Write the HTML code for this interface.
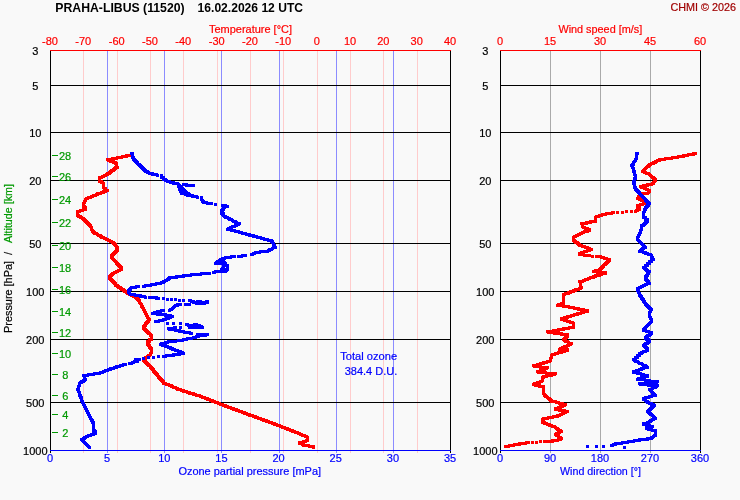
<!DOCTYPE html><html><head><meta charset="utf-8"><style>
html,body{margin:0;padding:0;background:#f9f9f9;}svg{display:block;will-change:transform}text{font-family:"Liberation Sans",sans-serif;font-size:11px;stroke-width:0.2px;paint-order:stroke}
</style></head><body>
<svg width="740" height="500" viewBox="0 0 740 500">
<rect width="740" height="500" fill="#f9f9f9"/>
<g shape-rendering="crispEdges">
<line x1="52" y1="155.5" x2="58" y2="155.5" stroke="#009900"/>
<line x1="52" y1="176.5" x2="58" y2="176.5" stroke="#009900"/>
<line x1="52" y1="199.5" x2="58" y2="199.5" stroke="#009900"/>
<line x1="52" y1="222.5" x2="58" y2="222.5" stroke="#009900"/>
<line x1="52" y1="245.5" x2="58" y2="245.5" stroke="#009900"/>
<line x1="52" y1="267.5" x2="58" y2="267.5" stroke="#009900"/>
<line x1="52" y1="289.5" x2="58" y2="289.5" stroke="#009900"/>
<line x1="52" y1="311.5" x2="58" y2="311.5" stroke="#009900"/>
<line x1="52" y1="332.5" x2="58" y2="332.5" stroke="#009900"/>
<line x1="52" y1="353.5" x2="58" y2="353.5" stroke="#009900"/>
<line x1="52" y1="374.5" x2="58" y2="374.5" stroke="#009900"/>
<line x1="52" y1="395.5" x2="58" y2="395.5" stroke="#009900"/>
<line x1="52" y1="414.5" x2="58" y2="414.5" stroke="#009900"/>
<line x1="52" y1="432.5" x2="58" y2="432.5" stroke="#009900"/>
</g>
<g shape-rendering="crispEdges">
<line x1="83.5" y1="51" x2="83.5" y2="453" stroke="#ffcccc"/>
<line x1="117.5" y1="51" x2="117.5" y2="453" stroke="#ffcccc"/>
<line x1="150.5" y1="51" x2="150.5" y2="453" stroke="#ffcccc"/>
<line x1="183.5" y1="51" x2="183.5" y2="453" stroke="#ffcccc"/>
<line x1="217.5" y1="51" x2="217.5" y2="453" stroke="#ffcccc"/>
<line x1="250.5" y1="51" x2="250.5" y2="453" stroke="#ffcccc"/>
<line x1="283.5" y1="51" x2="283.5" y2="453" stroke="#ffcccc"/>
<line x1="317.5" y1="51" x2="317.5" y2="453" stroke="#ffcccc"/>
<line x1="350.5" y1="51" x2="350.5" y2="453" stroke="#ffcccc"/>
<line x1="383.5" y1="51" x2="383.5" y2="453" stroke="#ffcccc"/>
<line x1="417.5" y1="51" x2="417.5" y2="453" stroke="#ffcccc"/>
<line x1="107.5" y1="51" x2="107.5" y2="453" stroke="#8c8cff"/>
<line x1="164.5" y1="51" x2="164.5" y2="453" stroke="#8c8cff"/>
<line x1="221.5" y1="51" x2="221.5" y2="453" stroke="#8c8cff"/>
<line x1="279.5" y1="51" x2="279.5" y2="453" stroke="#8c8cff"/>
<line x1="336.5" y1="51" x2="336.5" y2="453" stroke="#8c8cff"/>
<line x1="393.5" y1="51" x2="393.5" y2="453" stroke="#8c8cff"/>
<line x1="550.5" y1="51" x2="550.5" y2="453" stroke="#aaaaaa"/>
<line x1="600.5" y1="51" x2="600.5" y2="453" stroke="#aaaaaa"/>
<line x1="650.5" y1="51" x2="650.5" y2="453" stroke="#aaaaaa"/>
<line x1="50" y1="85.5" x2="451" y2="85.5" stroke="#000"/>
<line x1="500" y1="85.5" x2="701" y2="85.5" stroke="#000"/>
<line x1="50" y1="132.5" x2="451" y2="132.5" stroke="#000"/>
<line x1="500" y1="132.5" x2="701" y2="132.5" stroke="#000"/>
<line x1="50" y1="180.5" x2="451" y2="180.5" stroke="#000"/>
<line x1="500" y1="180.5" x2="701" y2="180.5" stroke="#000"/>
<line x1="50" y1="243.5" x2="451" y2="243.5" stroke="#000"/>
<line x1="500" y1="243.5" x2="701" y2="243.5" stroke="#000"/>
<line x1="50" y1="291.5" x2="451" y2="291.5" stroke="#000"/>
<line x1="500" y1="291.5" x2="701" y2="291.5" stroke="#000"/>
<line x1="50" y1="339.5" x2="451" y2="339.5" stroke="#000"/>
<line x1="500" y1="339.5" x2="701" y2="339.5" stroke="#000"/>
<line x1="50" y1="402.5" x2="451" y2="402.5" stroke="#000"/>
<line x1="500" y1="402.5" x2="701" y2="402.5" stroke="#000"/>
<line x1="50.5" y1="50" x2="50.5" y2="453" stroke="#000"/>
<line x1="450.5" y1="50" x2="450.5" y2="453" stroke="#000"/>
<line x1="50" y1="50.5" x2="451" y2="50.5" stroke="#f00"/>
<line x1="50" y1="450.5" x2="451" y2="450.5" stroke="#00f"/>
<line x1="500.5" y1="50" x2="500.5" y2="453" stroke="#000"/>
<line x1="700.5" y1="50" x2="700.5" y2="453" stroke="#000"/>
<line x1="500" y1="50.5" x2="701" y2="50.5" stroke="#f00"/>
<line x1="500" y1="450.5" x2="701" y2="450.5" stroke="#00f"/>
</g>
<text x="59" y="160" fill="#009900" stroke="#009900">28</text>
<text x="59" y="181" fill="#009900" stroke="#009900">26</text>
<text x="59" y="204" fill="#009900" stroke="#009900">24</text>
<text x="59" y="227" fill="#009900" stroke="#009900">22</text>
<text x="59" y="250" fill="#009900" stroke="#009900">20</text>
<text x="59" y="272" fill="#009900" stroke="#009900">18</text>
<text x="59" y="294" fill="#009900" stroke="#009900">16</text>
<text x="59" y="316" fill="#009900" stroke="#009900">14</text>
<text x="59" y="337" fill="#009900" stroke="#009900">12</text>
<text x="59" y="358" fill="#009900" stroke="#009900">10</text>
<text x="62.2" y="379" fill="#009900" stroke="#009900">8</text>
<text x="62.2" y="400" fill="#009900" stroke="#009900">6</text>
<text x="62.2" y="419" fill="#009900" stroke="#009900">4</text>
<text x="62.2" y="437" fill="#009900" stroke="#009900">2</text>
<text x="55.3" y="12" text-anchor="start" fill="#000" stroke="#000" textLength="129.3" lengthAdjust="spacingAndGlyphs" font-weight="bold" style="font-size:12px;stroke-width:0">PRAHA-LIBUS (11520)</text>
<text x="197.6" y="12" text-anchor="start" fill="#000" stroke="#000" textLength="105.4" lengthAdjust="spacingAndGlyphs" font-weight="bold" style="font-size:12px;stroke-width:0">16.02.2026 12 UTC</text>
<text x="670.5" y="11" text-anchor="start" fill="#a00000" stroke="#a00000" textLength="65.5" lengthAdjust="spacingAndGlyphs">CHMI © 2026</text>
<text x="209" y="33" text-anchor="start" fill="#f00" stroke="#f00" textLength="83" lengthAdjust="spacingAndGlyphs">Temperature [°C]</text>
<text x="558.4" y="33" text-anchor="start" fill="#f00" stroke="#f00" textLength="83.8" lengthAdjust="spacingAndGlyphs">Wind speed [m/s]</text>
<text x="50.0" y="45" text-anchor="middle" fill="#f00" stroke="#f00">-80</text>
<text x="83.3" y="45" text-anchor="middle" fill="#f00" stroke="#f00">-70</text>
<text x="116.7" y="45" text-anchor="middle" fill="#f00" stroke="#f00">-60</text>
<text x="150.0" y="45" text-anchor="middle" fill="#f00" stroke="#f00">-50</text>
<text x="183.3" y="45" text-anchor="middle" fill="#f00" stroke="#f00">-40</text>
<text x="216.7" y="45" text-anchor="middle" fill="#f00" stroke="#f00">-30</text>
<text x="250.0" y="45" text-anchor="middle" fill="#f00" stroke="#f00">-20</text>
<text x="283.3" y="45" text-anchor="middle" fill="#f00" stroke="#f00">-10</text>
<text x="316.7" y="45" text-anchor="middle" fill="#f00" stroke="#f00">0</text>
<text x="350.0" y="45" text-anchor="middle" fill="#f00" stroke="#f00">10</text>
<text x="383.3" y="45" text-anchor="middle" fill="#f00" stroke="#f00">20</text>
<text x="416.7" y="45" text-anchor="middle" fill="#f00" stroke="#f00">30</text>
<text x="450.0" y="45" text-anchor="middle" fill="#f00" stroke="#f00">40</text>
<text x="500" y="45" text-anchor="middle" fill="#f00" stroke="#f00">0</text>
<text x="550" y="45" text-anchor="middle" fill="#f00" stroke="#f00">15</text>
<text x="600" y="45" text-anchor="middle" fill="#f00" stroke="#f00">30</text>
<text x="650" y="45" text-anchor="middle" fill="#f00" stroke="#f00">45</text>
<text x="700" y="45" text-anchor="middle" fill="#f00" stroke="#f00">60</text>
<text x="50.0" y="462" text-anchor="middle" fill="#00f" stroke="#00f">0</text>
<text x="107.1" y="462" text-anchor="middle" fill="#00f" stroke="#00f">5</text>
<text x="164.3" y="462" text-anchor="middle" fill="#00f" stroke="#00f">10</text>
<text x="221.4" y="462" text-anchor="middle" fill="#00f" stroke="#00f">15</text>
<text x="278.6" y="462" text-anchor="middle" fill="#00f" stroke="#00f">20</text>
<text x="335.7" y="462" text-anchor="middle" fill="#00f" stroke="#00f">25</text>
<text x="392.9" y="462" text-anchor="middle" fill="#00f" stroke="#00f">30</text>
<text x="450.0" y="462" text-anchor="middle" fill="#00f" stroke="#00f">35</text>
<text x="500" y="462" text-anchor="middle" fill="#00f" stroke="#00f">0</text>
<text x="550" y="462" text-anchor="middle" fill="#00f" stroke="#00f">90</text>
<text x="600" y="462" text-anchor="middle" fill="#00f" stroke="#00f">180</text>
<text x="650" y="462" text-anchor="middle" fill="#00f" stroke="#00f">270</text>
<text x="700" y="462" text-anchor="middle" fill="#00f" stroke="#00f">360</text>
<text x="178.4" y="475" text-anchor="start" fill="#00f" stroke="#00f" textLength="142.7" lengthAdjust="spacingAndGlyphs">Ozone partial pressure [mPa]</text>
<text x="560" y="475" text-anchor="start" fill="#00f" stroke="#00f" textLength="81" lengthAdjust="spacingAndGlyphs">Wind direction [°]</text>
<text x="35.3" y="54.7" text-anchor="middle" fill="#000" stroke="#000">3</text>
<text x="485.3" y="54.7" text-anchor="middle" fill="#000" stroke="#000">3</text>
<text x="35.3" y="89.7" text-anchor="middle" fill="#000" stroke="#000">5</text>
<text x="485.3" y="89.7" text-anchor="middle" fill="#000" stroke="#000">5</text>
<text x="35.3" y="136.7" text-anchor="middle" fill="#000" stroke="#000">10</text>
<text x="485.3" y="136.7" text-anchor="middle" fill="#000" stroke="#000">10</text>
<text x="35.3" y="184.7" text-anchor="middle" fill="#000" stroke="#000">20</text>
<text x="485.3" y="184.7" text-anchor="middle" fill="#000" stroke="#000">20</text>
<text x="35.3" y="247.7" text-anchor="middle" fill="#000" stroke="#000">50</text>
<text x="485.3" y="247.7" text-anchor="middle" fill="#000" stroke="#000">50</text>
<text x="35.3" y="295.7" text-anchor="middle" fill="#000" stroke="#000">100</text>
<text x="485.3" y="295.7" text-anchor="middle" fill="#000" stroke="#000">100</text>
<text x="35.3" y="343.7" text-anchor="middle" fill="#000" stroke="#000">200</text>
<text x="485.3" y="343.7" text-anchor="middle" fill="#000" stroke="#000">200</text>
<text x="35.3" y="406.7" text-anchor="middle" fill="#000" stroke="#000">500</text>
<text x="485.3" y="406.7" text-anchor="middle" fill="#000" stroke="#000">500</text>
<text x="35.3" y="454.7" text-anchor="middle" fill="#000" stroke="#000">1000</text>
<text x="485.3" y="454.7" text-anchor="middle" fill="#000" stroke="#000">1000</text>
<text transform="translate(12,333) rotate(-90)" fill="#000" stroke="#000" textLength="72" lengthAdjust="spacingAndGlyphs">Pressure [hPa]</text>
<text transform="translate(12,255) rotate(-90)" fill="#000" stroke="#000">/</text>
<text transform="translate(12,243) rotate(-90)" fill="#009900" stroke="#009900" textLength="59" lengthAdjust="spacingAndGlyphs">Altitude [km]</text>
<text x="340.3" y="360" text-anchor="start" fill="#00f" stroke="#00f" textLength="56.8" lengthAdjust="spacingAndGlyphs">Total ozone</text>
<text x="371" y="375" text-anchor="middle" fill="#00f" stroke="#00f">384.4 D.U.</text>
<path d="M130 154h3v3h-3zM129 154h3v3h-3zM128 154h3v3h-3zM127 154h3v3h-3zM126 154h3v3h-3zM125 154h3v3h-3zM125 155h3v3h-3zM124 155h3v3h-3zM123 155h3v3h-3zM122 155h3v3h-3zM121 155h3v3h-3zM120 156h3v3h-3zM119 156h3v3h-3zM118 156h3v3h-3zM117 156h3v3h-3zM116 156h3v3h-3zM115 157h3v3h-3zM114 157h3v3h-3zM113 157h3v3h-3zM112 157h3v3h-3zM111 157h3v3h-3zM111 158h3v3h-3zM110 158h3v3h-3zM109 158h3v3h-3zM108 158h3v3h-3zM107 158h3v3h-3zM106 158h3v3h-3zM107 159h3v3h-3zM108 159h3v3h-3zM109 160h3v3h-3zM110 160h3v3h-3zM111 160h3v3h-3zM112 160h3v3h-3zM112 161h3v3h-3zM113 161h3v3h-3zM114 161h3v3h-3zM114 162h3v3h-3zM115 162h3v3h-3zM115 163h3v3h-3zM115 164h3v3h-3zM115 165h3v3h-3zM116 166h3v3h-3zM115 166h3v3h-3zM114 166h3v3h-3zM114 167h3v3h-3zM113 167h3v3h-3zM113 168h3v3h-3zM112 168h3v3h-3zM112 169h3v3h-3zM111 169h3v3h-3zM110 169h3v3h-3zM110 170h3v3h-3zM109 170h3v3h-3zM109 171h3v3h-3zM108 171h3v3h-3zM108 172h3v3h-3zM107 172h3v3h-3zM106 172h3v3h-3zM106 173h3v3h-3zM105 173h3v3h-3zM104 174h3v3h-3zM103 174h3v3h-3zM102 175h3v3h-3zM101 175h3v3h-3zM100 176h3v3h-3zM99 176h3v3h-3zM98 176h3v3h-3zM98 177h3v3h-3zM98 178h3v3h-3zM98 179h3v3h-3zM98 180h3v3h-3zM99 180h3v3h-3zM100 180h3v3h-3zM100 181h3v3h-3zM101 181h3v3h-3zM102 182h3v3h-3zM102 183h3v3h-3zM102 184h3v3h-3zM102 185h3v3h-3zM102 186h3v3h-3zM103 187h3v3h-3zM104 187h3v3h-3zM104 188h3v3h-3zM105 189h3v3h-3zM106 189h3v3h-3zM104 190h3v3h-3zM103 190h3v3h-3zM102 190h3v3h-3zM102 191h3v3h-3zM101 191h3v3h-3zM100 191h3v3h-3zM99 192h3v3h-3zM98 192h3v3h-3zM97 192h3v3h-3zM96 192h3v3h-3zM96 193h3v3h-3zM95 193h3v3h-3zM94 194h3v3h-3zM93 194h3v3h-3zM92 194h3v3h-3zM91 195h3v3h-3zM90 195h3v3h-3zM89 196h3v3h-3zM88 196h3v3h-3zM87 196h3v3h-3zM86 197h3v3h-3zM85 197h3v3h-3zM84 198h3v3h-3zM84 199h3v3h-3zM83 200h3v3h-3zM83 201h3v3h-3zM82 202h3v3h-3zM82 203h3v3h-3zM82 204h3v3h-3zM82 205h3v3h-3zM83 205h3v3h-3zM83 206h3v3h-3zM84 206h3v3h-3zM84 207h3v3h-3zM84 208h3v3h-3zM83 208h3v3h-3zM82 208h3v3h-3zM81 209h3v3h-3zM80 209h3v3h-3zM79 209h3v3h-3zM78 210h3v3h-3zM77 210h3v3h-3zM76 210h3v3h-3zM76 211h3v3h-3zM76 212h3v3h-3zM76 213h3v3h-3zM76 214h3v3h-3zM77 214h3v3h-3zM77 215h3v3h-3zM78 215h3v3h-3zM79 215h3v3h-3zM79 216h3v3h-3zM80 216h3v3h-3zM81 217h3v3h-3zM82 217h3v3h-3zM82 218h3v3h-3zM83 218h3v3h-3zM83 219h3v3h-3zM84 219h3v3h-3zM84 220h3v3h-3zM85 220h3v3h-3zM85 221h3v3h-3zM86 221h3v3h-3zM86 222h3v3h-3zM87 222h3v3h-3zM87 223h3v3h-3zM88 223h3v3h-3zM88 224h3v3h-3zM89 224h3v3h-3zM89 225h3v3h-3zM90 226h3v3h-3zM90 227h3v3h-3zM90 228h3v3h-3zM91 229h3v3h-3zM91 230h3v3h-3zM92 230h3v3h-3zM92 231h3v3h-3zM93 231h3v3h-3zM93 232h3v3h-3zM94 232h3v3h-3zM95 232h3v3h-3zM96 233h3v3h-3zM97 234h3v3h-3zM98 234h3v3h-3zM99 234h3v3h-3zM99 235h3v3h-3zM100 235h3v3h-3zM100 236h3v3h-3zM101 236h3v3h-3zM102 236h3v3h-3zM103 237h3v3h-3zM104 237h3v3h-3zM105 238h3v3h-3zM106 238h3v3h-3zM107 239h3v3h-3zM108 239h3v3h-3zM109 240h3v3h-3zM110 240h3v3h-3zM111 241h3v3h-3zM112 241h3v3h-3zM112 242h3v3h-3zM113 242h3v3h-3zM113 243h3v3h-3zM114 243h3v3h-3zM114 244h3v3h-3zM115 245h3v3h-3zM115 246h3v3h-3zM116 246h3v3h-3zM116 247h3v3h-3zM116 248h3v3h-3zM116 249h3v3h-3zM115 249h3v3h-3zM115 250h3v3h-3zM114 250h3v3h-3zM114 251h3v3h-3zM113 251h3v3h-3zM113 252h3v3h-3zM112 252h3v3h-3zM112 253h3v3h-3zM111 253h3v3h-3zM111 254h3v3h-3zM110 254h3v3h-3zM110 255h3v3h-3zM110 256h3v3h-3zM111 257h3v3h-3zM112 258h3v3h-3zM113 259h3v3h-3zM114 260h3v3h-3zM115 261h3v3h-3zM115 262h3v3h-3zM116 262h3v3h-3zM116 263h3v3h-3zM117 263h3v3h-3zM117 264h3v3h-3zM118 264h3v3h-3zM118 265h3v3h-3zM119 265h3v3h-3zM119 266h3v3h-3zM120 266h3v3h-3zM120 267h3v3h-3zM120 268h3v3h-3zM119 268h3v3h-3zM118 269h3v3h-3zM117 269h3v3h-3zM116 270h3v3h-3zM115 270h3v3h-3zM114 271h3v3h-3zM113 271h3v3h-3zM112 272h3v3h-3zM111 272h3v3h-3zM111 273h3v3h-3zM110 273h3v3h-3zM110 274h3v3h-3zM109 274h3v3h-3zM109 275h3v3h-3zM108 275h3v3h-3zM108 276h3v3h-3zM108 277h3v3h-3zM109 277h3v3h-3zM109 278h3v3h-3zM110 278h3v3h-3zM110 279h3v3h-3zM111 279h3v3h-3zM111 280h3v3h-3zM112 280h3v3h-3zM112 281h3v3h-3zM113 281h3v3h-3zM113 282h3v3h-3zM114 282h3v3h-3zM114 283h3v3h-3zM114 284h3v3h-3zM115 284h3v3h-3zM116 284h3v3h-3zM116 285h3v3h-3zM117 285h3v3h-3zM117 286h3v3h-3zM118 286h3v3h-3zM119 286h3v3h-3zM119 287h3v3h-3zM120 287h3v3h-3zM120 288h3v3h-3zM121 288h3v3h-3zM122 288h3v3h-3zM122 289h3v3h-3zM123 289h3v3h-3zM123 290h3v3h-3zM124 290h3v3h-3zM125 291h3v3h-3zM126 291h3v3h-3zM126 292h3v3h-3zM127 292h3v3h-3zM128 292h3v3h-3zM128 293h3v3h-3zM129 293h3v3h-3zM130 294h3v3h-3zM131 294h3v3h-3zM132 295h3v3h-3zM133 295h3v3h-3zM134 296h3v3h-3zM135 296h3v3h-3zM135 297h3v3h-3zM136 297h3v3h-3zM136 298h3v3h-3zM137 298h3v3h-3zM137 299h3v3h-3zM138 299h3v3h-3zM138 300h3v3h-3zM138 301h3v3h-3zM139 302h3v3h-3zM140 303h3v3h-3zM140 304h3v3h-3zM140 305h3v3h-3zM141 305h3v3h-3zM141 306h3v3h-3zM142 307h3v3h-3zM142 308h3v3h-3zM143 309h3v3h-3zM143 310h3v3h-3zM144 311h3v3h-3zM144 312h3v3h-3zM145 313h3v3h-3zM145 314h3v3h-3zM146 315h3v3h-3zM146 316h3v3h-3zM147 317h3v3h-3zM147 318h3v3h-3zM148 318h3v3h-3zM147 319h3v3h-3zM147 320h3v3h-3zM146 320h3v3h-3zM146 321h3v3h-3zM145 321h3v3h-3zM145 322h3v3h-3zM144 322h3v3h-3zM144 323h3v3h-3zM144 324h3v3h-3zM143 324h3v3h-3zM143 325h3v3h-3zM142 325h3v3h-3zM142 326h3v3h-3zM142 327h3v3h-3zM143 327h3v3h-3zM143 328h3v3h-3zM144 328h3v3h-3zM144 329h3v3h-3zM145 329h3v3h-3zM145 330h3v3h-3zM146 330h3v3h-3zM146 331h3v3h-3zM147 331h3v3h-3zM147 332h3v3h-3zM148 332h3v3h-3zM149 333h3v3h-3zM149 334h3v3h-3zM150 334h3v3h-3zM150 335h3v3h-3zM150 336h3v3h-3zM150 337h3v3h-3zM150 338h3v3h-3zM149 338h3v3h-3zM148 338h3v3h-3zM148 339h3v3h-3zM148 340h3v3h-3zM147 340h3v3h-3zM146 340h3v3h-3zM146 341h3v3h-3zM146 342h3v3h-3zM146 343h3v3h-3zM147 343h3v3h-3zM147 344h3v3h-3zM148 344h3v3h-3zM148 345h3v3h-3zM148 346h3v3h-3zM149 346h3v3h-3zM149 347h3v3h-3zM150 347h3v3h-3zM150 348h3v3h-3zM150 349h3v3h-3zM150 350h3v3h-3zM150 351h3v3h-3zM149 352h3v3h-3zM149 353h3v3h-3zM148 354h3v3h-3zM147 354h3v3h-3zM147 355h3v3h-3zM146 355h3v3h-3zM146 356h3v3h-3zM145 356h3v3h-3zM144 356h3v3h-3zM144 357h3v3h-3zM143 357h3v3h-3zM143 358h3v3h-3zM142 358h3v3h-3zM142 359h3v3h-3zM143 359h3v3h-3zM143 360h3v3h-3zM144 360h3v3h-3zM144 361h3v3h-3zM145 361h3v3h-3zM145 362h3v3h-3zM146 362h3v3h-3zM146 363h3v3h-3zM147 363h3v3h-3zM147 364h3v3h-3zM148 364h3v3h-3zM149 365h3v3h-3zM149 366h3v3h-3zM150 366h3v3h-3zM150 367h3v3h-3zM151 367h3v3h-3zM151 368h3v3h-3zM152 368h3v3h-3zM152 369h3v3h-3zM152 370h3v3h-3zM153 370h3v3h-3zM153 371h3v3h-3zM154 371h3v3h-3zM154 372h3v3h-3zM155 372h3v3h-3zM155 373h3v3h-3zM156 373h3v3h-3zM156 374h3v3h-3zM157 375h3v3h-3zM157 376h3v3h-3zM158 376h3v3h-3zM158 377h3v3h-3zM159 377h3v3h-3zM159 378h3v3h-3zM160 378h3v3h-3zM160 379h3v3h-3zM161 379h3v3h-3zM161 380h3v3h-3zM162 380h3v3h-3zM162 381h3v3h-3zM162 382h3v3h-3zM163 382h3v3h-3zM164 382h3v3h-3zM165 383h3v3h-3zM166 383h3v3h-3zM167 383h3v3h-3zM168 384h3v3h-3zM169 384h3v3h-3zM170 384h3v3h-3zM170 385h3v3h-3zM171 385h3v3h-3zM172 386h3v3h-3zM173 386h3v3h-3zM174 386h3v3h-3zM175 387h3v3h-3zM176 387h3v3h-3zM176 388h3v3h-3zM177 388h3v3h-3zM178 388h3v3h-3zM179 388h3v3h-3zM180 389h3v3h-3zM181 389h3v3h-3zM182 389h3v3h-3zM182 390h3v3h-3zM183 390h3v3h-3zM184 390h3v3h-3zM185 390h3v3h-3zM186 391h3v3h-3zM187 391h3v3h-3zM188 391h3v3h-3zM188 392h3v3h-3zM189 392h3v3h-3zM190 392h3v3h-3zM191 392h3v3h-3zM192 392h3v3h-3zM192 393h3v3h-3zM193 393h3v3h-3zM194 393h3v3h-3zM195 394h3v3h-3zM196 394h3v3h-3zM197 394h3v3h-3zM198 394h3v3h-3zM199 395h3v3h-3zM200 395h3v3h-3zM201 396h3v3h-3zM202 396h3v3h-3zM203 396h3v3h-3zM204 397h3v3h-3zM205 397h3v3h-3zM206 397h3v3h-3zM206 398h3v3h-3zM207 398h3v3h-3zM208 398h3v3h-3zM209 399h3v3h-3zM210 399h3v3h-3zM211 399h3v3h-3zM211 400h3v3h-3zM212 400h3v3h-3zM213 400h3v3h-3zM214 401h3v3h-3zM215 401h3v3h-3zM216 401h3v3h-3zM217 402h3v3h-3zM218 402h3v3h-3zM219 403h3v3h-3zM220 403h3v3h-3zM221 403h3v3h-3zM222 404h3v3h-3zM223 404h3v3h-3zM224 404h3v3h-3zM224 405h3v3h-3zM225 405h3v3h-3zM226 405h3v3h-3zM227 406h3v3h-3zM228 406h3v3h-3zM229 406h3v3h-3zM230 407h3v3h-3zM231 407h3v3h-3zM232 407h3v3h-3zM232 408h3v3h-3zM233 408h3v3h-3zM234 408h3v3h-3zM235 408h3v3h-3zM235 409h3v3h-3zM236 409h3v3h-3zM237 409h3v3h-3zM238 410h3v3h-3zM239 410h3v3h-3zM240 410h3v3h-3zM241 411h3v3h-3zM242 411h3v3h-3zM243 411h3v3h-3zM243 412h3v3h-3zM244 412h3v3h-3zM245 412h3v3h-3zM246 413h3v3h-3zM247 413h3v3h-3zM248 413h3v3h-3zM248 414h3v3h-3zM249 414h3v3h-3zM250 414h3v3h-3zM251 414h3v3h-3zM252 415h3v3h-3zM253 415h3v3h-3zM254 415h3v3h-3zM254 416h3v3h-3zM255 416h3v3h-3zM256 416h3v3h-3zM257 417h3v3h-3zM258 417h3v3h-3zM259 417h3v3h-3zM260 418h3v3h-3zM261 418h3v3h-3zM262 418h3v3h-3zM262 419h3v3h-3zM263 419h3v3h-3zM264 419h3v3h-3zM265 419h3v3h-3zM265 420h3v3h-3zM266 420h3v3h-3zM267 420h3v3h-3zM268 421h3v3h-3zM269 421h3v3h-3zM270 421h3v3h-3zM271 422h3v3h-3zM272 422h3v3h-3zM273 422h3v3h-3zM273 423h3v3h-3zM274 423h3v3h-3zM275 423h3v3h-3zM276 424h3v3h-3zM277 424h3v3h-3zM278 424h3v3h-3zM279 425h3v3h-3zM280 425h3v3h-3zM281 426h3v3h-3zM282 426h3v3h-3zM283 426h3v3h-3zM284 427h3v3h-3zM285 427h3v3h-3zM286 427h3v3h-3zM286 428h3v3h-3zM287 428h3v3h-3zM288 428h3v3h-3zM289 429h3v3h-3zM290 429h3v3h-3zM291 429h3v3h-3zM291 430h3v3h-3zM292 430h3v3h-3zM293 430h3v3h-3zM294 431h3v3h-3zM295 431h3v3h-3zM296 431h3v3h-3zM297 432h3v3h-3zM298 432h3v3h-3zM299 433h3v3h-3zM300 433h3v3h-3zM301 434h3v3h-3zM302 434h3v3h-3zM303 434h3v3h-3zM304 435h3v3h-3zM305 435h3v3h-3zM306 436h3v3h-3zM306 437h3v3h-3zM306 438h3v3h-3zM306 439h3v3h-3zM305 439h3v3h-3zM304 440h3v3h-3zM303 440h3v3h-3zM302 440h3v3h-3zM302 441h3v3h-3zM301 441h3v3h-3zM300 441h3v3h-3zM299 441h3v3h-3zM298 441h3v3h-3zM298 442h3v3h-3zM299 442h3v3h-3zM300 442h3v3h-3zM301 443h3v3h-3zM302 443h3v3h-3zM302 444h3v3h-3zM303 444h3v3h-3zM304 444h3v3h-3zM305 444h3v3h-3zM306 444h3v3h-3zM307 444h3v3h-3zM308 445h3v3h-3zM309 445h3v3h-3zM310 445h3v3h-3zM311 445h3v3h-3zM312 445h3v3h-3zM312 446h3v3h-3z" fill="#f00" shape-rendering="crispEdges"/>
<path d="M130 152h3v3h-3zM131 152h3v3h-3zM131 153h3v3h-3zM131 154h3v3h-3zM131 155h3v3h-3zM131 156h3v3h-3zM132 156h3v3h-3zM132 157h3v3h-3zM132 158h3v3h-3zM133 158h3v3h-3zM133 159h3v3h-3zM134 159h3v3h-3zM134 160h3v3h-3zM135 160h3v3h-3zM135 161h3v3h-3zM136 161h3v3h-3zM136 162h3v3h-3zM137 163h3v3h-3zM138 163h3v3h-3zM138 164h3v3h-3zM139 164h3v3h-3zM139 165h3v3h-3zM140 165h3v3h-3zM140 166h3v3h-3zM141 166h3v3h-3zM141 167h3v3h-3zM142 167h3v3h-3zM142 168h3v3h-3zM143 168h3v3h-3zM143 169h3v3h-3zM144 169h3v3h-3zM144 170h3v3h-3zM145 170h3v3h-3zM146 170h3v3h-3zM146 171h3v3h-3zM147 171h3v3h-3zM148 172h3v3h-3zM149 172h3v3h-3zM150 172h3v3h-3zM151 172h3v3h-3zM151 173h3v3h-3zM152 173h3v3h-3zM153 173h3v3h-3zM154 173h3v3h-3zM155 173h3v3h-3zM156 174h3v3h-3zM160 174h3v3h-3zM160 175h3v3h-3zM160 176h3v3h-3zM161 176h3v3h-3zM162 176h3v3h-3zM162 177h3v3h-3zM162 178h3v3h-3zM163 178h3v3h-3zM164 178h3v3h-3zM164 179h3v3h-3zM165 179h3v3h-3zM166 180h3v3h-3zM167 180h3v3h-3zM168 180h3v3h-3zM169 181h3v3h-3zM170 181h3v3h-3zM171 181h3v3h-3zM172 181h3v3h-3zM172 182h3v3h-3zM173 182h3v3h-3zM174 182h3v3h-3zM175 182h3v3h-3zM176 182h3v3h-3zM177 183h3v3h-3zM177 184h3v3h-3zM177 185h3v3h-3zM178 186h3v3h-3zM178 187h3v3h-3zM178 188h3v3h-3zM179 189h3v3h-3zM179 190h3v3h-3zM180 190h3v3h-3zM180 191h3v3h-3zM180 192h3v3h-3zM181 192h3v3h-3zM182 192h3v3h-3zM183 192h3v3h-3zM184 193h3v3h-3zM185 193h3v3h-3zM186 193h3v3h-3zM186 194h3v3h-3zM187 194h3v3h-3zM188 194h3v3h-3zM189 194h3v3h-3zM190 194h3v3h-3zM191 194h3v3h-3zM191 195h3v3h-3zM192 195h3v3h-3zM193 195h3v3h-3zM194 195h3v3h-3zM195 195h3v3h-3zM196 196h3v3h-3zM200 196h3v3h-3zM200 197h3v3h-3zM200 198h3v3h-3zM201 199h3v3h-3zM201 200h3v3h-3zM202 200h3v3h-3zM202 201h3v3h-3zM203 201h3v3h-3zM204 201h3v3h-3zM205 201h3v3h-3zM206 202h3v3h-3zM207 202h3v3h-3zM208 202h3v3h-3zM209 202h3v3h-3zM210 202h3v3h-3zM214 203h3v3h-3zM224 204h3v3h-3zM223 205h3v3h-3zM223 206h3v3h-3zM222 206h3v3h-3zM222 207h3v3h-3zM222 208h3v3h-3zM221 208h3v3h-3zM221 209h3v3h-3zM220 209h3v3h-3zM220 210h3v3h-3zM220 211h3v3h-3zM220 212h3v3h-3zM221 212h3v3h-3zM221 213h3v3h-3zM222 213h3v3h-3zM222 214h3v3h-3zM223 215h3v3h-3zM224 215h3v3h-3zM224 216h3v3h-3zM225 216h3v3h-3zM226 216h3v3h-3zM227 217h3v3h-3zM228 217h3v3h-3zM228 218h3v3h-3zM229 218h3v3h-3zM230 218h3v3h-3zM231 219h3v3h-3zM232 220h3v3h-3zM233 220h3v3h-3zM234 220h3v3h-3zM234 221h3v3h-3zM235 221h3v3h-3zM236 222h3v3h-3zM237 222h3v3h-3zM238 222h3v3h-3zM237 223h3v3h-3zM236 223h3v3h-3zM235 224h3v3h-3zM234 224h3v3h-3zM233 225h3v3h-3zM232 225h3v3h-3zM231 225h3v3h-3zM230 226h3v3h-3zM229 226h3v3h-3zM228 227h3v3h-3zM227 227h3v3h-3zM226 228h3v3h-3zM227 228h3v3h-3zM228 228h3v3h-3zM229 228h3v3h-3zM230 228h3v3h-3zM230 229h3v3h-3zM231 229h3v3h-3zM232 229h3v3h-3zM233 229h3v3h-3zM234 230h3v3h-3zM235 230h3v3h-3zM236 230h3v3h-3zM237 230h3v3h-3zM238 231h3v3h-3zM239 231h3v3h-3zM240 231h3v3h-3zM241 232h3v3h-3zM242 232h3v3h-3zM243 232h3v3h-3zM244 232h3v3h-3zM245 233h3v3h-3zM246 233h3v3h-3zM247 233h3v3h-3zM248 233h3v3h-3zM248 234h3v3h-3zM249 234h3v3h-3zM250 234h3v3h-3zM251 234h3v3h-3zM252 234h3v3h-3zM252 235h3v3h-3zM253 235h3v3h-3zM254 235h3v3h-3zM255 235h3v3h-3zM256 236h3v3h-3zM257 236h3v3h-3zM258 236h3v3h-3zM259 236h3v3h-3zM260 237h3v3h-3zM261 237h3v3h-3zM262 237h3v3h-3zM263 238h3v3h-3zM264 238h3v3h-3zM265 238h3v3h-3zM266 238h3v3h-3zM267 239h3v3h-3zM268 239h3v3h-3zM269 239h3v3h-3zM270 239h3v3h-3zM270 240h3v3h-3zM271 240h3v3h-3zM271 241h3v3h-3zM272 242h3v3h-3zM272 243h3v3h-3zM273 244h3v3h-3zM273 245h3v3h-3zM274 246h3v3h-3zM273 246h3v3h-3zM272 246h3v3h-3zM271 247h3v3h-3zM270 248h3v3h-3zM269 248h3v3h-3zM268 248h3v3h-3zM268 249h3v3h-3zM267 249h3v3h-3zM266 250h3v3h-3zM265 250h3v3h-3zM264 250h3v3h-3zM263 250h3v3h-3zM262 250h3v3h-3zM261 250h3v3h-3zM260 250h3v3h-3zM259 250h3v3h-3zM258 251h3v3h-3zM257 251h3v3h-3zM256 251h3v3h-3zM255 251h3v3h-3zM254 251h3v3h-3zM253 252h3v3h-3zM252 252h3v3h-3zM251 253h3v3h-3zM250 253h3v3h-3zM244 254h3v3h-3zM243 254h3v3h-3zM242 254h3v3h-3zM241 254h3v3h-3zM240 255h3v3h-3zM239 255h3v3h-3zM238 255h3v3h-3zM237 255h3v3h-3zM233 255h3v3h-3zM232 255h3v3h-3zM231 255h3v3h-3zM230 255h3v3h-3zM229 256h3v3h-3zM228 256h3v3h-3zM227 256h3v3h-3zM226 256h3v3h-3zM225 256h3v3h-3zM224 256h3v3h-3zM223 257h3v3h-3zM222 257h3v3h-3zM221 257h3v3h-3zM220 258h3v3h-3zM219 258h3v3h-3zM218 259h3v3h-3zM217 260h3v3h-3zM216 260h3v3h-3zM215 261h3v3h-3zM214 262h3v3h-3zM215 262h3v3h-3zM216 262h3v3h-3zM217 262h3v3h-3zM218 262h3v3h-3zM219 262h3v3h-3zM220 262h3v3h-3zM221 262h3v3h-3zM222 263h3v3h-3zM223 263h3v3h-3zM224 263h3v3h-3zM225 264h3v3h-3zM226 264h3v3h-3zM226 265h3v3h-3zM226 266h3v3h-3zM226 267h3v3h-3zM226 268h3v3h-3zM225 268h3v3h-3zM225 269h3v3h-3zM224 270h3v3h-3zM223 270h3v3h-3zM222 270h3v3h-3zM221 270h3v3h-3zM220 270h3v3h-3zM219 270h3v3h-3zM218 270h3v3h-3zM217 270h3v3h-3zM216 270h3v3h-3zM215 270h3v3h-3zM214 270h3v3h-3zM213 271h3v3h-3zM212 271h3v3h-3zM208 272h3v3h-3zM207 272h3v3h-3zM206 272h3v3h-3zM205 272h3v3h-3zM204 272h3v3h-3zM203 272h3v3h-3zM202 272h3v3h-3zM201 272h3v3h-3zM200 272h3v3h-3zM199 273h3v3h-3zM198 273h3v3h-3zM197 273h3v3h-3zM196 273h3v3h-3zM195 273h3v3h-3zM194 273h3v3h-3zM193 273h3v3h-3zM192 273h3v3h-3zM191 273h3v3h-3zM190 273h3v3h-3zM189 274h3v3h-3zM188 274h3v3h-3zM187 274h3v3h-3zM186 274h3v3h-3zM185 274h3v3h-3zM184 274h3v3h-3zM183 274h3v3h-3zM182 274h3v3h-3zM182 275h3v3h-3zM181 275h3v3h-3zM180 275h3v3h-3zM179 275h3v3h-3zM178 275h3v3h-3zM177 275h3v3h-3zM176 275h3v3h-3zM175 275h3v3h-3zM175 276h3v3h-3zM174 276h3v3h-3zM173 276h3v3h-3zM172 276h3v3h-3zM171 276h3v3h-3zM170 276h3v3h-3zM169 276h3v3h-3zM168 276h3v3h-3zM168 277h3v3h-3zM167 277h3v3h-3zM167 278h3v3h-3zM166 278h3v3h-3zM165 279h3v3h-3zM164 279h3v3h-3zM163 280h3v3h-3zM162 280h3v3h-3zM162 281h3v3h-3zM161 281h3v3h-3zM160 281h3v3h-3zM159 282h3v3h-3zM158 282h3v3h-3zM157 282h3v3h-3zM156 282h3v3h-3zM155 282h3v3h-3zM154 283h3v3h-3zM153 283h3v3h-3zM152 283h3v3h-3zM151 283h3v3h-3zM150 283h3v3h-3zM149 284h3v3h-3zM148 284h3v3h-3zM147 284h3v3h-3zM146 284h3v3h-3zM145 284h3v3h-3zM144 284h3v3h-3zM143 285h3v3h-3zM142 285h3v3h-3zM137 285h3v3h-3zM136 285h3v3h-3zM135 285h3v3h-3zM134 286h3v3h-3zM133 286h3v3h-3zM132 286h3v3h-3zM131 286h3v3h-3zM130 286h3v3h-3zM129 287h3v3h-3zM129 288h3v3h-3zM128 288h3v3h-3zM127 289h3v3h-3zM127 290h3v3h-3zM127 291h3v3h-3zM128 291h3v3h-3zM128 292h3v3h-3zM129 293h3v3h-3zM130 293h3v3h-3zM131 293h3v3h-3zM132 293h3v3h-3zM133 293h3v3h-3zM134 294h3v3h-3zM135 294h3v3h-3zM136 294h3v3h-3zM137 294h3v3h-3zM138 294h3v3h-3zM139 294h3v3h-3zM139 295h3v3h-3zM140 295h3v3h-3zM141 295h3v3h-3zM142 295h3v3h-3zM143 295h3v3h-3zM144 296h3v3h-3zM148 296h3v3h-3zM149 296h3v3h-3zM150 296h3v3h-3zM151 296h3v3h-3zM152 296h3v3h-3zM153 296h3v3h-3zM154 296h3v3h-3zM155 296h3v3h-3zM155 297h3v3h-3zM156 297h3v3h-3zM157 297h3v3h-3zM162 297h3v3h-3zM166 298h3v3h-3zM170 298h3v3h-3zM174 298h3v3h-3zM178 299h3v3h-3zM182 299h3v3h-3zM188 299h3v3h-3zM189 299h3v3h-3zM190 300h3v3h-3zM191 300h3v3h-3zM192 300h3v3h-3zM192 301h3v3h-3zM193 301h3v3h-3zM194 301h3v3h-3zM195 302h3v3h-3zM195 301h3v3h-3zM196 301h3v3h-3zM196 300h3v3h-3zM197 300h3v3h-3zM198 300h3v3h-3zM199 300h3v3h-3zM200 301h3v3h-3zM201 301h3v3h-3zM202 301h3v3h-3zM203 301h3v3h-3zM204 301h3v3h-3zM205 300h3v3h-3zM206 300h3v3h-3zM206 301h3v3h-3zM205 301h3v3h-3zM203 302h3v3h-3zM202 302h3v3h-3zM201 302h3v3h-3zM200 302h3v3h-3zM199 302h3v3h-3zM198 302h3v3h-3zM197 302h3v3h-3zM196 302h3v3h-3zM188 303h3v3h-3zM187 303h3v3h-3zM186 303h3v3h-3zM185 303h3v3h-3zM184 303h3v3h-3zM179 303h3v3h-3zM178 303h3v3h-3zM177 303h3v3h-3zM176 303h3v3h-3zM176 304h3v3h-3zM175 304h3v3h-3zM174 304h3v3h-3zM173 305h3v3h-3zM172 306h3v3h-3zM171 307h3v3h-3zM170 308h3v3h-3zM169 308h3v3h-3zM168 309h3v3h-3zM162 309h3v3h-3zM161 309h3v3h-3zM160 309h3v3h-3zM159 310h3v3h-3zM158 310h3v3h-3zM157 310h3v3h-3zM156 310h3v3h-3zM155 311h3v3h-3zM154 311h3v3h-3zM153 311h3v3h-3zM152 312h3v3h-3zM151 312h3v3h-3zM153 312h3v3h-3zM154 312h3v3h-3zM155 312h3v3h-3zM156 312h3v3h-3zM156 313h3v3h-3zM157 313h3v3h-3zM158 313h3v3h-3zM159 313h3v3h-3zM160 313h3v3h-3zM161 313h3v3h-3zM162 313h3v3h-3zM163 313h3v3h-3zM164 313h3v3h-3zM164 314h3v3h-3zM165 314h3v3h-3zM166 314h3v3h-3zM167 314h3v3h-3zM168 314h3v3h-3zM169 314h3v3h-3zM170 315h3v3h-3zM171 315h3v3h-3zM169 316h3v3h-3zM168 316h3v3h-3zM167 317h3v3h-3zM166 317h3v3h-3zM165 317h3v3h-3zM164 318h3v3h-3zM163 318h3v3h-3zM162 318h3v3h-3zM161 319h3v3h-3zM160 319h3v3h-3zM159 319h3v3h-3zM158 319h3v3h-3zM157 320h3v3h-3zM156 320h3v3h-3zM155 320h3v3h-3zM154 320h3v3h-3zM166 322h3v3h-3zM172 322h3v3h-3zM179 322h3v3h-3zM185 323h3v3h-3zM186 323h3v3h-3zM187 324h3v3h-3zM188 324h3v3h-3zM189 324h3v3h-3zM190 324h3v3h-3zM191 324h3v3h-3zM192 324h3v3h-3zM193 324h3v3h-3zM193 323h3v3h-3zM194 323h3v3h-3zM195 323h3v3h-3zM196 324h3v3h-3zM197 324h3v3h-3zM198 324h3v3h-3zM199 325h3v3h-3zM200 325h3v3h-3zM201 326h3v3h-3zM200 326h3v3h-3zM199 326h3v3h-3zM198 326h3v3h-3zM197 326h3v3h-3zM196 326h3v3h-3zM195 326h3v3h-3zM194 326h3v3h-3zM193 326h3v3h-3zM192 326h3v3h-3zM191 326h3v3h-3zM190 326h3v3h-3zM189 326h3v3h-3zM188 326h3v3h-3zM179 326h3v3h-3zM174 326h3v3h-3zM173 326h3v3h-3zM172 327h3v3h-3zM171 327h3v3h-3zM170 327h3v3h-3zM169 327h3v3h-3zM168 327h3v3h-3zM167 327h3v3h-3zM168 328h3v3h-3zM169 328h3v3h-3zM170 328h3v3h-3zM171 328h3v3h-3zM172 328h3v3h-3zM173 328h3v3h-3zM174 329h3v3h-3zM175 329h3v3h-3zM176 329h3v3h-3zM177 329h3v3h-3zM178 329h3v3h-3zM178 330h3v3h-3zM179 330h3v3h-3zM180 330h3v3h-3zM181 330h3v3h-3zM182 330h3v3h-3zM183 331h3v3h-3zM184 331h3v3h-3zM185 331h3v3h-3zM186 331h3v3h-3zM187 331h3v3h-3zM188 331h3v3h-3zM189 332h3v3h-3zM190 332h3v3h-3zM196 333h3v3h-3zM197 333h3v3h-3zM198 333h3v3h-3zM199 333h3v3h-3zM200 333h3v3h-3zM201 333h3v3h-3zM202 333h3v3h-3zM203 333h3v3h-3zM204 333h3v3h-3zM205 333h3v3h-3zM206 333h3v3h-3zM204 334h3v3h-3zM203 334h3v3h-3zM202 334h3v3h-3zM201 334h3v3h-3zM200 334h3v3h-3zM197 335h3v3h-3zM196 335h3v3h-3zM195 335h3v3h-3zM194 336h3v3h-3zM193 336h3v3h-3zM192 336h3v3h-3zM190 337h3v3h-3zM189 337h3v3h-3zM188 337h3v3h-3zM187 337h3v3h-3zM186 337h3v3h-3zM185 338h3v3h-3zM182 338h3v3h-3zM181 339h3v3h-3zM180 339h3v3h-3zM179 339h3v3h-3zM178 339h3v3h-3zM177 339h3v3h-3zM174 340h3v3h-3zM173 340h3v3h-3zM172 340h3v3h-3zM171 340h3v3h-3zM170 340h3v3h-3zM169 340h3v3h-3zM168 340h3v3h-3zM167 340h3v3h-3zM166 341h3v3h-3zM165 341h3v3h-3zM164 341h3v3h-3zM164 342h3v3h-3zM163 342h3v3h-3zM162 342h3v3h-3zM161 342h3v3h-3zM160 342h3v3h-3zM159 343h3v3h-3zM160 343h3v3h-3zM161 343h3v3h-3zM161 344h3v3h-3zM162 344h3v3h-3zM163 344h3v3h-3zM164 345h3v3h-3zM165 345h3v3h-3zM166 345h3v3h-3zM167 346h3v3h-3zM168 346h3v3h-3zM169 346h3v3h-3zM169 347h3v3h-3zM170 347h3v3h-3zM171 347h3v3h-3zM171 348h3v3h-3zM172 348h3v3h-3zM173 348h3v3h-3zM174 349h3v3h-3zM175 349h3v3h-3zM176 349h3v3h-3zM177 350h3v3h-3zM178 350h3v3h-3zM179 350h3v3h-3zM179 351h3v3h-3zM180 351h3v3h-3zM181 351h3v3h-3zM182 352h3v3h-3zM181 352h3v3h-3zM180 352h3v3h-3zM179 352h3v3h-3zM178 353h3v3h-3zM177 353h3v3h-3zM176 353h3v3h-3zM175 353h3v3h-3zM174 353h3v3h-3zM173 353h3v3h-3zM172 353h3v3h-3zM172 354h3v3h-3zM171 354h3v3h-3zM170 354h3v3h-3zM169 354h3v3h-3zM168 354h3v3h-3zM167 354h3v3h-3zM166 354h3v3h-3zM165 354h3v3h-3zM164 355h3v3h-3zM163 355h3v3h-3zM162 355h3v3h-3zM157 355h3v3h-3zM152 356h3v3h-3zM147 356h3v3h-3zM142 357h3v3h-3zM138 358h3v3h-3zM137 358h3v3h-3zM136 359h3v3h-3zM135 360h3v3h-3zM134 360h3v3h-3zM133 360h3v3h-3zM132 361h3v3h-3zM131 361h3v3h-3zM130 362h3v3h-3zM129 362h3v3h-3zM128 362h3v3h-3zM124 363h3v3h-3zM123 363h3v3h-3zM122 363h3v3h-3zM121 364h3v3h-3zM120 364h3v3h-3zM119 364h3v3h-3zM118 365h3v3h-3zM117 365h3v3h-3zM116 365h3v3h-3zM115 365h3v3h-3zM115 366h3v3h-3zM114 366h3v3h-3zM113 366h3v3h-3zM112 367h3v3h-3zM111 367h3v3h-3zM110 367h3v3h-3zM109 367h3v3h-3zM109 368h3v3h-3zM108 368h3v3h-3zM107 368h3v3h-3zM106 369h3v3h-3zM105 369h3v3h-3zM104 369h3v3h-3zM103 370h3v3h-3zM102 370h3v3h-3zM101 371h3v3h-3zM100 371h3v3h-3zM99 371h3v3h-3zM98 372h3v3h-3zM97 372h3v3h-3zM96 372h3v3h-3zM95 372h3v3h-3zM94 372h3v3h-3zM93 372h3v3h-3zM92 373h3v3h-3zM91 373h3v3h-3zM90 373h3v3h-3zM89 373h3v3h-3zM88 373h3v3h-3zM87 373h3v3h-3zM86 374h3v3h-3zM85 374h3v3h-3zM84 374h3v3h-3zM83 374h3v3h-3zM82 374h3v3h-3zM83 375h3v3h-3zM83 376h3v3h-3zM83 377h3v3h-3zM83 378h3v3h-3zM84 378h3v3h-3zM83 379h3v3h-3zM82 379h3v3h-3zM82 380h3v3h-3zM81 380h3v3h-3zM80 380h3v3h-3zM80 381h3v3h-3zM79 381h3v3h-3zM78 382h3v3h-3zM78 383h3v3h-3zM78 384h3v3h-3zM77 385h3v3h-3zM77 386h3v3h-3zM77 387h3v3h-3zM76 388h3v3h-3zM77 388h3v3h-3zM77 389h3v3h-3zM77 390h3v3h-3zM78 391h3v3h-3zM78 392h3v3h-3zM78 393h3v3h-3zM78 394h3v3h-3zM79 394h3v3h-3zM79 395h3v3h-3zM79 396h3v3h-3zM80 396h3v3h-3zM80 397h3v3h-3zM80 398h3v3h-3zM80 399h3v3h-3zM81 400h3v3h-3zM81 401h3v3h-3zM82 402h3v3h-3zM82 403h3v3h-3zM83 404h3v3h-3zM83 405h3v3h-3zM84 406h3v3h-3zM84 407h3v3h-3zM85 408h3v3h-3zM85 409h3v3h-3zM86 410h3v3h-3zM86 411h3v3h-3zM87 412h3v3h-3zM87 413h3v3h-3zM88 414h3v3h-3zM88 415h3v3h-3zM89 416h3v3h-3zM89 417h3v3h-3zM90 418h3v3h-3zM90 419h3v3h-3zM91 419h3v3h-3zM91 420h3v3h-3zM91 421h3v3h-3zM92 421h3v3h-3zM92 422h3v3h-3zM92 423h3v3h-3zM92 424h3v3h-3zM92 425h3v3h-3zM92 426h3v3h-3zM92 427h3v3h-3zM92 428h3v3h-3zM92 429h3v3h-3zM93 429h3v3h-3zM93 430h3v3h-3zM94 430h3v3h-3zM94 431h3v3h-3zM94 432h3v3h-3zM93 432h3v3h-3zM92 432h3v3h-3zM92 433h3v3h-3zM91 433h3v3h-3zM90 433h3v3h-3zM89 434h3v3h-3zM88 434h3v3h-3zM87 434h3v3h-3zM86 435h3v3h-3zM85 435h3v3h-3zM84 436h3v3h-3zM83 436h3v3h-3zM83 437h3v3h-3zM82 437h3v3h-3zM82 438h3v3h-3zM81 438h3v3h-3zM80 438h3v3h-3zM81 439h3v3h-3zM82 440h3v3h-3zM83 441h3v3h-3zM84 442h3v3h-3zM85 443h3v3h-3zM86 444h3v3h-3zM87 445h3v3h-3zM88 446h3v3h-3zM182 183h3v3h-3zM183 183h3v3h-3zM184 183h3v3h-3zM185 183h3v3h-3zM185 184h3v3h-3zM186 184h3v3h-3zM187 184h3v3h-3zM188 184h3v3h-3zM189 184h3v3h-3zM190 184h3v3h-3zM191 184h3v3h-3zM192 184h3v3h-3zM178 184h3v3h-3zM179 185h3v3h-3zM179 186h3v3h-3zM180 186h3v3h-3zM180 187h3v3h-3zM181 187h3v3h-3zM181 188h3v3h-3zM182 188h3v3h-3zM182 189h3v3h-3zM183 189h3v3h-3zM183 190h3v3h-3zM184 190h3v3h-3zM184 191h3v3h-3zM185 191h3v3h-3zM186 192h3v3h-3zM187 192h3v3h-3zM187 193h3v3h-3zM188 193h3v3h-3zM220 259h3v3h-3zM221 259h3v3h-3zM221 260h3v3h-3zM222 260h3v3h-3zM223 261h3v3h-3zM223 262h3v3h-3zM224 262h3v3h-3zM222 266h3v3h-3zM222 267h3v3h-3zM221 267h3v3h-3zM221 268h3v3h-3zM220 268h3v3h-3zM134 358h3v3h-3zM135 358h3v3h-3zM135 359h3v3h-3zM136 360h3v3h-3zM221 204h3v3h-3zM222 204h3v3h-3zM223 204h3v3h-3zM224 205h3v3h-3zM225 205h3v3h-3zM226 205h3v3h-3zM221 210h3v3h-3zM221 211h3v3h-3zM222 212h3v3h-3z" fill="#00f" shape-rendering="crispEdges"/>
<path d="M694 152h3v3h-3zM693 152h3v3h-3zM692 152h3v3h-3zM692 153h3v3h-3zM691 153h3v3h-3zM690 153h3v3h-3zM689 153h3v3h-3zM688 153h3v3h-3zM687 153h3v3h-3zM686 154h3v3h-3zM685 154h3v3h-3zM684 154h3v3h-3zM683 154h3v3h-3zM682 154h3v3h-3zM682 155h3v3h-3zM681 155h3v3h-3zM680 155h3v3h-3zM679 155h3v3h-3zM678 155h3v3h-3zM677 155h3v3h-3zM676 156h3v3h-3zM675 156h3v3h-3zM674 156h3v3h-3zM673 156h3v3h-3zM672 156h3v3h-3zM671 156h3v3h-3zM670 157h3v3h-3zM669 157h3v3h-3zM668 157h3v3h-3zM667 157h3v3h-3zM666 157h3v3h-3zM665 157h3v3h-3zM664 157h3v3h-3zM663 158h3v3h-3zM662 158h3v3h-3zM661 158h3v3h-3zM660 158h3v3h-3zM659 158h3v3h-3zM658 158h3v3h-3zM658 159h3v3h-3zM657 159h3v3h-3zM656 159h3v3h-3zM655 160h3v3h-3zM654 160h3v3h-3zM654 161h3v3h-3zM653 161h3v3h-3zM652 161h3v3h-3zM652 162h3v3h-3zM651 162h3v3h-3zM650 162h3v3h-3zM649 163h3v3h-3zM648 163h3v3h-3zM648 164h3v3h-3zM647 164h3v3h-3zM647 165h3v3h-3zM646 165h3v3h-3zM645 166h3v3h-3zM644 167h3v3h-3zM643 168h3v3h-3zM642 169h3v3h-3zM641 170h3v3h-3zM642 170h3v3h-3zM643 171h3v3h-3zM644 171h3v3h-3zM645 172h3v3h-3zM646 172h3v3h-3zM647 172h3v3h-3zM648 173h3v3h-3zM649 174h3v3h-3zM650 175h3v3h-3zM651 176h3v3h-3zM652 176h3v3h-3zM652 177h3v3h-3zM653 177h3v3h-3zM654 178h3v3h-3zM654 179h3v3h-3zM653 180h3v3h-3zM652 181h3v3h-3zM652 182h3v3h-3zM651 182h3v3h-3zM650 183h3v3h-3zM649 183h3v3h-3zM648 183h3v3h-3zM647 183h3v3h-3zM646 183h3v3h-3zM646 184h3v3h-3zM645 184h3v3h-3zM644 184h3v3h-3zM643 184h3v3h-3zM642 184h3v3h-3zM641 185h3v3h-3zM640 185h3v3h-3zM639 185h3v3h-3zM640 186h3v3h-3zM641 186h3v3h-3zM642 186h3v3h-3zM643 187h3v3h-3zM644 187h3v3h-3zM645 188h3v3h-3zM646 188h3v3h-3zM647 189h3v3h-3zM648 189h3v3h-3zM648 190h3v3h-3zM647 191h3v3h-3zM646 192h3v3h-3zM645 192h3v3h-3zM644 192h3v3h-3zM643 192h3v3h-3zM642 192h3v3h-3zM641 192h3v3h-3zM640 193h3v3h-3zM639 193h3v3h-3zM638 193h3v3h-3zM638 194h3v3h-3zM638 195h3v3h-3zM637 195h3v3h-3zM637 196h3v3h-3zM637 197h3v3h-3zM636 197h3v3h-3zM638 198h3v3h-3zM639 198h3v3h-3zM640 198h3v3h-3zM640 199h3v3h-3zM641 199h3v3h-3zM642 199h3v3h-3zM642 200h3v3h-3zM643 200h3v3h-3zM644 200h3v3h-3zM645 201h3v3h-3zM646 201h3v3h-3zM644 201h3v3h-3zM644 202h3v3h-3zM643 202h3v3h-3zM642 202h3v3h-3zM641 203h3v3h-3zM640 203h3v3h-3zM639 203h3v3h-3zM638 204h3v3h-3zM637 204h3v3h-3zM636 204h3v3h-3zM636 205h3v3h-3zM636 206h3v3h-3zM637 206h3v3h-3zM638 206h3v3h-3zM638 207h3v3h-3zM638 208h3v3h-3zM637 208h3v3h-3zM636 208h3v3h-3zM636 209h3v3h-3zM635 209h3v3h-3zM634 210h3v3h-3zM630 210h3v3h-3zM625 210h3v3h-3zM621 211h3v3h-3zM616 211h3v3h-3zM612 211h3v3h-3zM611 211h3v3h-3zM610 212h3v3h-3zM609 212h3v3h-3zM608 212h3v3h-3zM607 212h3v3h-3zM606 212h3v3h-3zM605 212h3v3h-3zM604 213h3v3h-3zM603 213h3v3h-3zM602 213h3v3h-3zM601 213h3v3h-3zM600 214h3v3h-3zM599 214h3v3h-3zM598 214h3v3h-3zM597 215h3v3h-3zM596 215h3v3h-3zM595 215h3v3h-3zM594 216h3v3h-3zM594 217h3v3h-3zM594 218h3v3h-3zM594 219h3v3h-3zM594 220h3v3h-3zM593 220h3v3h-3zM592 220h3v3h-3zM591 220h3v3h-3zM590 220h3v3h-3zM589 220h3v3h-3zM589 221h3v3h-3zM588 221h3v3h-3zM587 221h3v3h-3zM586 221h3v3h-3zM585 221h3v3h-3zM585 222h3v3h-3zM584 222h3v3h-3zM583 222h3v3h-3zM582 222h3v3h-3zM581 222h3v3h-3zM580 222h3v3h-3zM581 223h3v3h-3zM581 224h3v3h-3zM581 225h3v3h-3zM582 226h3v3h-3zM583 226h3v3h-3zM584 227h3v3h-3zM585 227h3v3h-3zM586 227h3v3h-3zM587 228h3v3h-3zM588 228h3v3h-3zM588 229h3v3h-3zM587 229h3v3h-3zM586 229h3v3h-3zM586 230h3v3h-3zM585 230h3v3h-3zM584 230h3v3h-3zM583 230h3v3h-3zM582 231h3v3h-3zM581 231h3v3h-3zM580 232h3v3h-3zM579 232h3v3h-3zM578 233h3v3h-3zM577 233h3v3h-3zM576 234h3v3h-3zM575 234h3v3h-3zM574 235h3v3h-3zM573 235h3v3h-3zM572 236h3v3h-3zM572 237h3v3h-3zM572 238h3v3h-3zM572 239h3v3h-3zM573 239h3v3h-3zM573 240h3v3h-3zM574 240h3v3h-3zM574 241h3v3h-3zM575 241h3v3h-3zM576 241h3v3h-3zM576 242h3v3h-3zM577 242h3v3h-3zM577 243h3v3h-3zM578 243h3v3h-3zM578 244h3v3h-3zM579 244h3v3h-3zM580 244h3v3h-3zM581 245h3v3h-3zM582 245h3v3h-3zM583 245h3v3h-3zM584 246h3v3h-3zM585 246h3v3h-3zM586 246h3v3h-3zM586 247h3v3h-3zM587 247h3v3h-3zM588 247h3v3h-3zM589 248h3v3h-3zM590 248h3v3h-3zM588 248h3v3h-3zM588 249h3v3h-3zM587 249h3v3h-3zM586 249h3v3h-3zM585 250h3v3h-3zM584 250h3v3h-3zM583 250h3v3h-3zM582 251h3v3h-3zM581 251h3v3h-3zM580 251h3v3h-3zM580 252h3v3h-3zM579 252h3v3h-3zM578 252h3v3h-3zM578 253h3v3h-3zM579 253h3v3h-3zM580 253h3v3h-3zM581 253h3v3h-3zM582 253h3v3h-3zM583 254h3v3h-3zM584 254h3v3h-3zM585 254h3v3h-3zM586 254h3v3h-3zM587 254h3v3h-3zM588 254h3v3h-3zM591 255h3v3h-3zM595 255h3v3h-3zM598 255h3v3h-3zM599 255h3v3h-3zM600 256h3v3h-3zM601 256h3v3h-3zM602 256h3v3h-3zM603 257h3v3h-3zM604 257h3v3h-3zM605 257h3v3h-3zM606 258h3v3h-3zM607 258h3v3h-3zM608 258h3v3h-3zM608 259h3v3h-3zM607 259h3v3h-3zM607 260h3v3h-3zM606 260h3v3h-3zM606 261h3v3h-3zM605 261h3v3h-3zM605 262h3v3h-3zM604 262h3v3h-3zM604 263h3v3h-3zM603 263h3v3h-3zM602 264h3v3h-3zM602 265h3v3h-3zM601 265h3v3h-3zM601 266h3v3h-3zM600 266h3v3h-3zM600 267h3v3h-3zM599 267h3v3h-3zM599 268h3v3h-3zM598 268h3v3h-3zM598 269h3v3h-3zM597 269h3v3h-3zM596 269h3v3h-3zM595 269h3v3h-3zM594 269h3v3h-3zM594 270h3v3h-3zM593 270h3v3h-3zM592 270h3v3h-3zM595 270h3v3h-3zM596 271h3v3h-3zM597 271h3v3h-3zM598 271h3v3h-3zM599 271h3v3h-3zM600 271h3v3h-3zM601 271h3v3h-3zM602 271h3v3h-3zM603 271h3v3h-3zM604 271h3v3h-3zM604 272h3v3h-3zM603 272h3v3h-3zM602 272h3v3h-3zM601 272h3v3h-3zM600 273h3v3h-3zM599 273h3v3h-3zM598 273h3v3h-3zM598 274h3v3h-3zM597 274h3v3h-3zM596 274h3v3h-3zM595 274h3v3h-3zM594 274h3v3h-3zM594 275h3v3h-3zM593 275h3v3h-3zM592 275h3v3h-3zM592 276h3v3h-3zM591 276h3v3h-3zM590 276h3v3h-3zM589 276h3v3h-3zM588 277h3v3h-3zM587 277h3v3h-3zM586 278h3v3h-3zM585 278h3v3h-3zM584 278h3v3h-3zM583 279h3v3h-3zM582 279h3v3h-3zM581 280h3v3h-3zM580 280h3v3h-3zM579 280h3v3h-3zM578 280h3v3h-3zM579 281h3v3h-3zM579 282h3v3h-3zM579 283h3v3h-3zM579 284h3v3h-3zM579 285h3v3h-3zM579 286h3v3h-3zM580 286h3v3h-3zM579 287h3v3h-3zM578 287h3v3h-3zM577 288h3v3h-3zM576 288h3v3h-3zM575 288h3v3h-3zM574 288h3v3h-3zM574 289h3v3h-3zM573 289h3v3h-3zM572 289h3v3h-3zM572 290h3v3h-3zM571 290h3v3h-3zM570 290h3v3h-3zM569 290h3v3h-3zM569 291h3v3h-3zM568 291h3v3h-3zM567 291h3v3h-3zM567 292h3v3h-3zM566 292h3v3h-3zM565 292h3v3h-3zM564 292h3v3h-3zM563 293h3v3h-3zM562 293h3v3h-3zM562 294h3v3h-3zM562 295h3v3h-3zM562 296h3v3h-3zM562 297h3v3h-3zM562 298h3v3h-3zM562 299h3v3h-3zM562 300h3v3h-3zM562 301h3v3h-3zM562 302h3v3h-3zM561 302h3v3h-3zM560 302h3v3h-3zM559 303h3v3h-3zM558 303h3v3h-3zM557 303h3v3h-3zM556 304h3v3h-3zM557 304h3v3h-3zM558 304h3v3h-3zM559 304h3v3h-3zM560 304h3v3h-3zM561 304h3v3h-3zM562 305h3v3h-3zM563 305h3v3h-3zM564 305h3v3h-3zM565 305h3v3h-3zM566 305h3v3h-3zM567 305h3v3h-3zM568 306h3v3h-3zM569 306h3v3h-3zM570 306h3v3h-3zM571 306h3v3h-3zM572 306h3v3h-3zM573 307h3v3h-3zM574 307h3v3h-3zM575 307h3v3h-3zM576 307h3v3h-3zM577 307h3v3h-3zM577 308h3v3h-3zM578 308h3v3h-3zM579 308h3v3h-3zM580 308h3v3h-3zM581 308h3v3h-3zM582 308h3v3h-3zM582 309h3v3h-3zM583 309h3v3h-3zM584 309h3v3h-3zM585 309h3v3h-3zM586 309h3v3h-3zM586 310h3v3h-3zM585 310h3v3h-3zM584 310h3v3h-3zM583 310h3v3h-3zM582 311h3v3h-3zM581 311h3v3h-3zM580 311h3v3h-3zM579 312h3v3h-3zM578 312h3v3h-3zM577 312h3v3h-3zM576 312h3v3h-3zM576 313h3v3h-3zM575 313h3v3h-3zM574 313h3v3h-3zM573 313h3v3h-3zM572 314h3v3h-3zM571 314h3v3h-3zM570 314h3v3h-3zM569 315h3v3h-3zM568 315h3v3h-3zM567 315h3v3h-3zM566 315h3v3h-3zM566 316h3v3h-3zM565 316h3v3h-3zM564 316h3v3h-3zM563 316h3v3h-3zM562 317h3v3h-3zM561 317h3v3h-3zM560 317h3v3h-3zM560 318h3v3h-3zM561 318h3v3h-3zM562 318h3v3h-3zM563 319h3v3h-3zM564 319h3v3h-3zM565 319h3v3h-3zM566 320h3v3h-3zM567 320h3v3h-3zM568 320h3v3h-3zM569 321h3v3h-3zM570 321h3v3h-3zM571 321h3v3h-3zM572 322h3v3h-3zM572 323h3v3h-3zM572 324h3v3h-3zM572 325h3v3h-3zM572 326h3v3h-3zM571 326h3v3h-3zM570 326h3v3h-3zM569 326h3v3h-3zM568 326h3v3h-3zM567 327h3v3h-3zM566 327h3v3h-3zM565 327h3v3h-3zM564 327h3v3h-3zM563 327h3v3h-3zM562 327h3v3h-3zM562 328h3v3h-3zM561 328h3v3h-3zM560 328h3v3h-3zM559 328h3v3h-3zM558 328h3v3h-3zM557 328h3v3h-3zM557 329h3v3h-3zM556 329h3v3h-3zM555 329h3v3h-3zM554 329h3v3h-3zM553 329h3v3h-3zM552 329h3v3h-3zM551 330h3v3h-3zM550 330h3v3h-3zM549 330h3v3h-3zM548 330h3v3h-3zM547 330h3v3h-3zM546 330h3v3h-3zM547 331h3v3h-3zM548 331h3v3h-3zM549 331h3v3h-3zM550 331h3v3h-3zM551 331h3v3h-3zM552 331h3v3h-3zM553 331h3v3h-3zM553 332h3v3h-3zM554 332h3v3h-3zM555 332h3v3h-3zM556 332h3v3h-3zM557 332h3v3h-3zM558 332h3v3h-3zM559 332h3v3h-3zM560 332h3v3h-3zM560 333h3v3h-3zM561 333h3v3h-3zM562 333h3v3h-3zM563 333h3v3h-3zM564 333h3v3h-3zM565 333h3v3h-3zM566 333h3v3h-3zM566 334h3v3h-3zM566 335h3v3h-3zM565 335h3v3h-3zM565 336h3v3h-3zM564 336h3v3h-3zM564 337h3v3h-3zM563 337h3v3h-3zM563 338h3v3h-3zM562 338h3v3h-3zM563 339h3v3h-3zM564 339h3v3h-3zM564 340h3v3h-3zM565 340h3v3h-3zM566 340h3v3h-3zM567 341h3v3h-3zM568 342h3v3h-3zM569 342h3v3h-3zM570 342h3v3h-3zM569 343h3v3h-3zM568 343h3v3h-3zM567 344h3v3h-3zM566 344h3v3h-3zM565 345h3v3h-3zM564 345h3v3h-3zM563 345h3v3h-3zM562 346h3v3h-3zM561 346h3v3h-3zM560 347h3v3h-3zM559 347h3v3h-3zM558 348h3v3h-3zM559 348h3v3h-3zM560 348h3v3h-3zM561 348h3v3h-3zM562 348h3v3h-3zM563 348h3v3h-3zM564 348h3v3h-3zM565 348h3v3h-3zM566 348h3v3h-3zM566 349h3v3h-3zM565 349h3v3h-3zM564 349h3v3h-3zM563 350h3v3h-3zM562 350h3v3h-3zM561 350h3v3h-3zM560 350h3v3h-3zM560 351h3v3h-3zM559 351h3v3h-3zM558 351h3v3h-3zM557 351h3v3h-3zM556 352h3v3h-3zM555 352h3v3h-3zM554 352h3v3h-3zM553 353h3v3h-3zM552 353h3v3h-3zM551 353h3v3h-3zM550 354h3v3h-3zM550 355h3v3h-3zM550 356h3v3h-3zM549 357h3v3h-3zM549 358h3v3h-3zM549 359h3v3h-3zM548 360h3v3h-3zM547 360h3v3h-3zM546 360h3v3h-3zM545 361h3v3h-3zM544 361h3v3h-3zM543 361h3v3h-3zM542 361h3v3h-3zM542 362h3v3h-3zM541 362h3v3h-3zM540 362h3v3h-3zM539 362h3v3h-3zM538 363h3v3h-3zM537 363h3v3h-3zM536 363h3v3h-3zM535 364h3v3h-3zM534 364h3v3h-3zM533 364h3v3h-3zM532 364h3v3h-3zM533 365h3v3h-3zM534 365h3v3h-3zM535 365h3v3h-3zM536 365h3v3h-3zM537 365h3v3h-3zM538 365h3v3h-3zM539 365h3v3h-3zM539 366h3v3h-3zM540 366h3v3h-3zM541 366h3v3h-3zM542 366h3v3h-3zM543 366h3v3h-3zM544 366h3v3h-3zM545 366h3v3h-3zM546 366h3v3h-3zM545 367h3v3h-3zM544 367h3v3h-3zM543 368h3v3h-3zM542 368h3v3h-3zM541 368h3v3h-3zM540 369h3v3h-3zM539 369h3v3h-3zM538 370h3v3h-3zM537 370h3v3h-3zM536 370h3v3h-3zM537 371h3v3h-3zM538 371h3v3h-3zM539 371h3v3h-3zM540 371h3v3h-3zM541 371h3v3h-3zM542 371h3v3h-3zM543 371h3v3h-3zM544 371h3v3h-3zM545 372h3v3h-3zM546 372h3v3h-3zM547 372h3v3h-3zM548 372h3v3h-3zM549 372h3v3h-3zM550 372h3v3h-3zM551 372h3v3h-3zM552 372h3v3h-3zM553 372h3v3h-3zM554 372h3v3h-3zM553 373h3v3h-3zM552 373h3v3h-3zM551 373h3v3h-3zM550 373h3v3h-3zM550 374h3v3h-3zM549 374h3v3h-3zM548 374h3v3h-3zM547 374h3v3h-3zM546 374h3v3h-3zM545 375h3v3h-3zM544 375h3v3h-3zM543 375h3v3h-3zM542 375h3v3h-3zM542 376h3v3h-3zM541 376h3v3h-3zM541 377h3v3h-3zM541 378h3v3h-3zM541 379h3v3h-3zM540 380h3v3h-3zM539 380h3v3h-3zM538 381h3v3h-3zM537 381h3v3h-3zM536 381h3v3h-3zM535 382h3v3h-3zM534 382h3v3h-3zM533 382h3v3h-3zM533 383h3v3h-3zM532 383h3v3h-3zM534 384h3v3h-3zM535 384h3v3h-3zM536 384h3v3h-3zM537 384h3v3h-3zM538 384h3v3h-3zM538 385h3v3h-3zM539 385h3v3h-3zM540 385h3v3h-3zM541 385h3v3h-3zM542 385h3v3h-3zM542 386h3v3h-3zM542 387h3v3h-3zM542 388h3v3h-3zM542 389h3v3h-3zM542 390h3v3h-3zM542 391h3v3h-3zM542 392h3v3h-3zM543 393h3v3h-3zM543 394h3v3h-3zM544 394h3v3h-3zM544 395h3v3h-3zM545 395h3v3h-3zM546 396h3v3h-3zM547 397h3v3h-3zM548 397h3v3h-3zM548 398h3v3h-3zM549 398h3v3h-3zM549 399h3v3h-3zM550 399h3v3h-3zM550 400h3v3h-3zM551 400h3v3h-3zM552 400h3v3h-3zM553 400h3v3h-3zM554 400h3v3h-3zM555 401h3v3h-3zM556 401h3v3h-3zM557 401h3v3h-3zM558 402h3v3h-3zM559 402h3v3h-3zM560 402h3v3h-3zM561 402h3v3h-3zM562 403h3v3h-3zM563 403h3v3h-3zM564 403h3v3h-3zM563 404h3v3h-3zM562 404h3v3h-3zM561 404h3v3h-3zM561 405h3v3h-3zM560 405h3v3h-3zM559 405h3v3h-3zM559 406h3v3h-3zM558 406h3v3h-3zM557 406h3v3h-3zM556 407h3v3h-3zM555 407h3v3h-3zM554 407h3v3h-3zM554 408h3v3h-3zM555 408h3v3h-3zM556 408h3v3h-3zM557 408h3v3h-3zM558 409h3v3h-3zM559 409h3v3h-3zM560 409h3v3h-3zM561 409h3v3h-3zM562 409h3v3h-3zM563 409h3v3h-3zM563 410h3v3h-3zM564 410h3v3h-3zM565 410h3v3h-3zM566 410h3v3h-3zM564 411h3v3h-3zM563 411h3v3h-3zM562 412h3v3h-3zM561 412h3v3h-3zM560 413h3v3h-3zM559 413h3v3h-3zM558 414h3v3h-3zM557 414h3v3h-3zM556 414h3v3h-3zM556 415h3v3h-3zM555 415h3v3h-3zM554 415h3v3h-3zM553 415h3v3h-3zM552 415h3v3h-3zM551 416h3v3h-3zM550 416h3v3h-3zM549 416h3v3h-3zM548 416h3v3h-3zM547 416h3v3h-3zM546 417h3v3h-3zM545 417h3v3h-3zM544 417h3v3h-3zM543 417h3v3h-3zM542 417h3v3h-3zM542 418h3v3h-3zM541 418h3v3h-3zM541 419h3v3h-3zM541 420h3v3h-3zM541 421h3v3h-3zM542 421h3v3h-3zM543 421h3v3h-3zM543 422h3v3h-3zM544 422h3v3h-3zM545 422h3v3h-3zM546 423h3v3h-3zM547 423h3v3h-3zM548 423h3v3h-3zM548 424h3v3h-3zM549 424h3v3h-3zM550 424h3v3h-3zM551 425h3v3h-3zM552 425h3v3h-3zM553 425h3v3h-3zM554 426h3v3h-3zM555 427h3v3h-3zM556 427h3v3h-3zM556 428h3v3h-3zM557 428h3v3h-3zM558 429h3v3h-3zM559 429h3v3h-3zM560 430h3v3h-3zM559 430h3v3h-3zM558 431h3v3h-3zM557 431h3v3h-3zM557 432h3v3h-3zM556 432h3v3h-3zM555 432h3v3h-3zM555 433h3v3h-3zM554 433h3v3h-3zM555 434h3v3h-3zM556 434h3v3h-3zM557 435h3v3h-3zM558 436h3v3h-3zM559 436h3v3h-3zM560 437h3v3h-3zM559 438h3v3h-3zM558 438h3v3h-3zM557 438h3v3h-3zM556 439h3v3h-3zM555 439h3v3h-3zM554 439h3v3h-3zM553 439h3v3h-3zM552 439h3v3h-3zM551 439h3v3h-3zM551 440h3v3h-3zM550 440h3v3h-3zM549 440h3v3h-3zM548 440h3v3h-3zM547 440h3v3h-3zM546 440h3v3h-3zM545 440h3v3h-3zM544 440h3v3h-3zM543 440h3v3h-3zM539 440h3v3h-3zM535 441h3v3h-3zM531 441h3v3h-3zM527 441h3v3h-3zM526 441h3v3h-3zM525 441h3v3h-3zM524 442h3v3h-3zM523 442h3v3h-3zM522 442h3v3h-3zM521 442h3v3h-3zM520 442h3v3h-3zM519 442h3v3h-3zM518 442h3v3h-3zM518 443h3v3h-3zM517 443h3v3h-3zM516 443h3v3h-3zM515 443h3v3h-3zM514 443h3v3h-3zM513 443h3v3h-3zM512 444h3v3h-3zM511 444h3v3h-3zM510 444h3v3h-3zM509 444h3v3h-3zM508 444h3v3h-3zM507 445h3v3h-3zM506 445h3v3h-3zM505 445h3v3h-3zM504 445h3v3h-3z" fill="#f00" shape-rendering="crispEdges"/>
<path d="M636 152h3v3h-3zM635 152h3v3h-3zM635 153h3v3h-3zM635 154h3v3h-3zM635 155h3v3h-3zM635 156h3v3h-3zM635 157h3v3h-3zM634 158h3v3h-3zM634 159h3v3h-3zM633 160h3v3h-3zM632 161h3v3h-3zM632 162h3v3h-3zM632 163h3v3h-3zM631 163h3v3h-3zM631 164h3v3h-3zM630 164h3v3h-3zM631 165h3v3h-3zM631 166h3v3h-3zM632 167h3v3h-3zM632 168h3v3h-3zM632 169h3v3h-3zM632 170h3v3h-3zM633 170h3v3h-3zM633 171h3v3h-3zM633 172h3v3h-3zM633 173h3v3h-3zM634 174h3v3h-3zM634 175h3v3h-3zM634 176h3v3h-3zM634 177h3v3h-3zM633 177h3v3h-3zM633 178h3v3h-3zM633 179h3v3h-3zM632 180h3v3h-3zM632 181h3v3h-3zM632 182h3v3h-3zM633 182h3v3h-3zM633 183h3v3h-3zM633 184h3v3h-3zM633 185h3v3h-3zM633 186h3v3h-3zM634 186h3v3h-3zM634 187h3v3h-3zM634 188h3v3h-3zM635 188h3v3h-3zM635 189h3v3h-3zM636 189h3v3h-3zM636 190h3v3h-3zM637 190h3v3h-3zM637 191h3v3h-3zM638 191h3v3h-3zM638 192h3v3h-3zM639 193h3v3h-3zM640 194h3v3h-3zM641 195h3v3h-3zM642 196h3v3h-3zM643 197h3v3h-3zM644 198h3v3h-3zM644 199h3v3h-3zM645 199h3v3h-3zM645 200h3v3h-3zM646 200h3v3h-3zM646 201h3v3h-3zM647 201h3v3h-3zM647 202h3v3h-3zM648 202h3v3h-3zM647 203h3v3h-3zM647 204h3v3h-3zM646 204h3v3h-3zM646 205h3v3h-3zM645 205h3v3h-3zM645 206h3v3h-3zM644 206h3v3h-3zM644 207h3v3h-3zM644 208h3v3h-3zM643 208h3v3h-3zM643 209h3v3h-3zM643 210h3v3h-3zM642 211h3v3h-3zM642 212h3v3h-3zM642 213h3v3h-3zM642 214h3v3h-3zM642 215h3v3h-3zM642 216h3v3h-3zM643 216h3v3h-3zM644 216h3v3h-3zM644 217h3v3h-3zM644 218h3v3h-3zM645 218h3v3h-3zM646 218h3v3h-3zM646 219h3v3h-3zM646 220h3v3h-3zM645 220h3v3h-3zM645 221h3v3h-3zM644 221h3v3h-3zM644 222h3v3h-3zM643 222h3v3h-3zM643 223h3v3h-3zM642 223h3v3h-3zM642 224h3v3h-3zM641 224h3v3h-3zM640 224h3v3h-3zM640 225h3v3h-3zM640 226h3v3h-3zM640 227h3v3h-3zM640 228h3v3h-3zM639 229h3v3h-3zM639 230h3v3h-3zM639 231h3v3h-3zM638 232h3v3h-3zM638 233h3v3h-3zM637 234h3v3h-3zM637 235h3v3h-3zM636 236h3v3h-3zM636 237h3v3h-3zM636 238h3v3h-3zM637 239h3v3h-3zM638 240h3v3h-3zM639 241h3v3h-3zM640 242h3v3h-3zM641 243h3v3h-3zM642 244h3v3h-3zM643 245h3v3h-3zM644 246h3v3h-3zM643 246h3v3h-3zM642 246h3v3h-3zM642 247h3v3h-3zM641 247h3v3h-3zM641 248h3v3h-3zM640 248h3v3h-3zM640 249h3v3h-3zM639 249h3v3h-3zM638 250h3v3h-3zM639 250h3v3h-3zM640 250h3v3h-3zM641 250h3v3h-3zM642 251h3v3h-3zM643 251h3v3h-3zM644 251h3v3h-3zM644 252h3v3h-3zM645 252h3v3h-3zM646 252h3v3h-3zM647 253h3v3h-3zM648 253h3v3h-3zM649 253h3v3h-3zM650 254h3v3h-3zM650 255h3v3h-3zM650 256h3v3h-3zM651 256h3v3h-3zM651 257h3v3h-3zM652 258h3v3h-3zM651 258h3v3h-3zM650 258h3v3h-3zM650 259h3v3h-3zM650 260h3v3h-3zM649 260h3v3h-3zM648 260h3v3h-3zM648 261h3v3h-3zM648 262h3v3h-3zM647 262h3v3h-3zM646 262h3v3h-3zM646 263h3v3h-3zM646 264h3v3h-3zM645 264h3v3h-3zM644 264h3v3h-3zM644 265h3v3h-3zM644 266h3v3h-3zM643 266h3v3h-3zM642 266h3v3h-3zM643 267h3v3h-3zM644 267h3v3h-3zM644 268h3v3h-3zM645 268h3v3h-3zM645 269h3v3h-3zM646 269h3v3h-3zM646 270h3v3h-3zM647 270h3v3h-3zM648 270h3v3h-3zM647 271h3v3h-3zM647 272h3v3h-3zM646 272h3v3h-3zM646 273h3v3h-3zM646 274h3v3h-3zM645 274h3v3h-3zM645 275h3v3h-3zM644 275h3v3h-3zM644 276h3v3h-3zM644 277h3v3h-3zM644 278h3v3h-3zM645 278h3v3h-3zM645 279h3v3h-3zM646 279h3v3h-3zM646 280h3v3h-3zM647 280h3v3h-3zM647 281h3v3h-3zM648 282h3v3h-3zM647 282h3v3h-3zM646 282h3v3h-3zM645 283h3v3h-3zM644 283h3v3h-3zM643 284h3v3h-3zM642 284h3v3h-3zM641 285h3v3h-3zM640 285h3v3h-3zM639 286h3v3h-3zM638 286h3v3h-3zM637 287h3v3h-3zM636 287h3v3h-3zM636 288h3v3h-3zM636 289h3v3h-3zM637 290h3v3h-3zM637 291h3v3h-3zM638 292h3v3h-3zM638 293h3v3h-3zM638 294h3v3h-3zM639 294h3v3h-3zM639 295h3v3h-3zM640 295h3v3h-3zM640 296h3v3h-3zM640 297h3v3h-3zM641 297h3v3h-3zM641 298h3v3h-3zM642 298h3v3h-3zM642 299h3v3h-3zM642 300h3v3h-3zM643 300h3v3h-3zM643 301h3v3h-3zM644 302h3v3h-3zM644 303h3v3h-3zM645 303h3v3h-3zM645 304h3v3h-3zM646 304h3v3h-3zM646 305h3v3h-3zM647 305h3v3h-3zM647 306h3v3h-3zM648 306h3v3h-3zM648 307h3v3h-3zM649 307h3v3h-3zM649 308h3v3h-3zM650 308h3v3h-3zM649 309h3v3h-3zM649 310h3v3h-3zM648 311h3v3h-3zM648 312h3v3h-3zM648 313h3v3h-3zM648 314h3v3h-3zM648 315h3v3h-3zM649 316h3v3h-3zM649 317h3v3h-3zM650 318h3v3h-3zM650 319h3v3h-3zM650 320h3v3h-3zM649 321h3v3h-3zM648 322h3v3h-3zM647 323h3v3h-3zM646 324h3v3h-3zM645 325h3v3h-3zM644 326h3v3h-3zM643 327h3v3h-3zM642 328h3v3h-3zM642 329h3v3h-3zM643 329h3v3h-3zM644 329h3v3h-3zM645 330h3v3h-3zM646 330h3v3h-3zM647 330h3v3h-3zM648 331h3v3h-3zM649 331h3v3h-3zM650 331h3v3h-3zM650 332h3v3h-3zM649 332h3v3h-3zM649 333h3v3h-3zM648 333h3v3h-3zM648 334h3v3h-3zM647 334h3v3h-3zM646 334h3v3h-3zM646 335h3v3h-3zM645 335h3v3h-3zM645 336h3v3h-3zM644 336h3v3h-3zM644 337h3v3h-3zM645 337h3v3h-3zM645 338h3v3h-3zM646 338h3v3h-3zM647 338h3v3h-3zM647 339h3v3h-3zM648 339h3v3h-3zM648 340h3v3h-3zM647 340h3v3h-3zM647 341h3v3h-3zM646 341h3v3h-3zM646 342h3v3h-3zM645 342h3v3h-3zM644 342h3v3h-3zM644 343h3v3h-3zM643 343h3v3h-3zM642 344h3v3h-3zM643 344h3v3h-3zM643 345h3v3h-3zM644 345h3v3h-3zM644 346h3v3h-3zM645 346h3v3h-3zM645 347h3v3h-3zM646 347h3v3h-3zM646 348h3v3h-3zM646 349h3v3h-3zM645 349h3v3h-3zM644 350h3v3h-3zM643 350h3v3h-3zM642 350h3v3h-3zM641 351h3v3h-3zM640 351h3v3h-3zM640 352h3v3h-3zM639 352h3v3h-3zM638 352h3v3h-3zM638 353h3v3h-3zM638 354h3v3h-3zM637 354h3v3h-3zM636 354h3v3h-3zM636 355h3v3h-3zM636 356h3v3h-3zM635 356h3v3h-3zM634 356h3v3h-3zM634 357h3v3h-3zM634 358h3v3h-3zM633 358h3v3h-3zM632 358h3v3h-3zM633 359h3v3h-3zM634 359h3v3h-3zM634 360h3v3h-3zM635 360h3v3h-3zM636 360h3v3h-3zM637 361h3v3h-3zM638 362h3v3h-3zM639 362h3v3h-3zM640 362h3v3h-3zM641 363h3v3h-3zM642 364h3v3h-3zM643 364h3v3h-3zM644 364h3v3h-3zM644 365h3v3h-3zM645 365h3v3h-3zM646 366h3v3h-3zM645 366h3v3h-3zM644 366h3v3h-3zM643 366h3v3h-3zM642 367h3v3h-3zM641 367h3v3h-3zM640 367h3v3h-3zM640 368h3v3h-3zM639 368h3v3h-3zM638 368h3v3h-3zM637 369h3v3h-3zM636 369h3v3h-3zM635 369h3v3h-3zM634 370h3v3h-3zM633 370h3v3h-3zM632 370h3v3h-3zM632 371h3v3h-3zM633 371h3v3h-3zM634 371h3v3h-3zM635 371h3v3h-3zM636 372h3v3h-3zM637 372h3v3h-3zM638 372h3v3h-3zM639 372h3v3h-3zM640 373h3v3h-3zM641 373h3v3h-3zM642 373h3v3h-3zM643 374h3v3h-3zM644 374h3v3h-3zM645 374h3v3h-3zM646 374h3v3h-3zM646 375h3v3h-3zM645 375h3v3h-3zM644 375h3v3h-3zM643 376h3v3h-3zM642 376h3v3h-3zM641 376h3v3h-3zM640 376h3v3h-3zM639 377h3v3h-3zM638 377h3v3h-3zM637 377h3v3h-3zM636 378h3v3h-3zM637 378h3v3h-3zM638 378h3v3h-3zM639 378h3v3h-3zM640 378h3v3h-3zM641 378h3v3h-3zM642 378h3v3h-3zM643 378h3v3h-3zM644 379h3v3h-3zM645 379h3v3h-3zM646 379h3v3h-3zM647 379h3v3h-3zM648 379h3v3h-3zM649 380h3v3h-3zM650 380h3v3h-3zM651 380h3v3h-3zM652 380h3v3h-3zM653 380h3v3h-3zM654 380h3v3h-3zM655 380h3v3h-3zM656 380h3v3h-3zM655 381h3v3h-3zM654 381h3v3h-3zM653 381h3v3h-3zM652 381h3v3h-3zM651 381h3v3h-3zM650 381h3v3h-3zM649 381h3v3h-3zM648 381h3v3h-3zM647 382h3v3h-3zM646 382h3v3h-3zM645 382h3v3h-3zM644 382h3v3h-3zM643 382h3v3h-3zM642 382h3v3h-3zM641 382h3v3h-3zM640 382h3v3h-3zM639 382h3v3h-3zM638 382h3v3h-3zM639 383h3v3h-3zM640 383h3v3h-3zM641 383h3v3h-3zM642 383h3v3h-3zM643 383h3v3h-3zM644 383h3v3h-3zM645 383h3v3h-3zM646 383h3v3h-3zM647 384h3v3h-3zM648 384h3v3h-3zM649 384h3v3h-3zM650 384h3v3h-3zM651 384h3v3h-3zM652 384h3v3h-3zM653 384h3v3h-3zM654 384h3v3h-3zM655 384h3v3h-3zM656 384h3v3h-3zM655 385h3v3h-3zM654 385h3v3h-3zM654 386h3v3h-3zM653 386h3v3h-3zM652 386h3v3h-3zM651 387h3v3h-3zM650 388h3v3h-3zM649 388h3v3h-3zM648 388h3v3h-3zM649 389h3v3h-3zM650 390h3v3h-3zM651 391h3v3h-3zM652 392h3v3h-3zM653 393h3v3h-3zM654 394h3v3h-3zM653 394h3v3h-3zM652 394h3v3h-3zM651 394h3v3h-3zM650 395h3v3h-3zM649 395h3v3h-3zM648 395h3v3h-3zM647 396h3v3h-3zM646 396h3v3h-3zM645 396h3v3h-3zM644 396h3v3h-3zM644 397h3v3h-3zM643 397h3v3h-3zM642 397h3v3h-3zM642 398h3v3h-3zM643 398h3v3h-3zM644 399h3v3h-3zM645 400h3v3h-3zM646 400h3v3h-3zM646 401h3v3h-3zM647 401h3v3h-3zM648 402h3v3h-3zM649 402h3v3h-3zM650 402h3v3h-3zM650 403h3v3h-3zM651 403h3v3h-3zM652 403h3v3h-3zM652 404h3v3h-3zM653 404h3v3h-3zM652 405h3v3h-3zM651 405h3v3h-3zM651 406h3v3h-3zM650 406h3v3h-3zM650 407h3v3h-3zM649 407h3v3h-3zM649 408h3v3h-3zM648 408h3v3h-3zM648 409h3v3h-3zM647 409h3v3h-3zM647 410h3v3h-3zM646 410h3v3h-3zM647 411h3v3h-3zM648 411h3v3h-3zM648 412h3v3h-3zM649 412h3v3h-3zM649 413h3v3h-3zM650 413h3v3h-3zM651 414h3v3h-3zM652 415h3v3h-3zM653 416h3v3h-3zM654 417h3v3h-3zM653 417h3v3h-3zM652 418h3v3h-3zM651 418h3v3h-3zM650 419h3v3h-3zM649 419h3v3h-3zM649 420h3v3h-3zM648 420h3v3h-3zM647 421h3v3h-3zM646 421h3v3h-3zM645 422h3v3h-3zM644 422h3v3h-3zM643 422h3v3h-3zM642 422h3v3h-3zM642 423h3v3h-3zM643 423h3v3h-3zM644 423h3v3h-3zM645 424h3v3h-3zM646 424h3v3h-3zM647 424h3v3h-3zM648 424h3v3h-3zM649 425h3v3h-3zM650 425h3v3h-3zM651 425h3v3h-3zM650 426h3v3h-3zM649 426h3v3h-3zM648 426h3v3h-3zM647 426h3v3h-3zM647 427h3v3h-3zM646 427h3v3h-3zM645 427h3v3h-3zM647 428h3v3h-3zM648 428h3v3h-3zM649 428h3v3h-3zM650 428h3v3h-3zM651 429h3v3h-3zM652 429h3v3h-3zM653 429h3v3h-3zM654 429h3v3h-3zM654 430h3v3h-3zM654 431h3v3h-3zM654 432h3v3h-3zM654 433h3v3h-3zM654 434h3v3h-3zM653 434h3v3h-3zM652 435h3v3h-3zM651 436h3v3h-3zM650 436h3v3h-3zM650 437h3v3h-3zM649 437h3v3h-3zM648 437h3v3h-3zM647 437h3v3h-3zM646 437h3v3h-3zM646 438h3v3h-3zM645 438h3v3h-3zM644 438h3v3h-3zM643 438h3v3h-3zM642 438h3v3h-3zM641 438h3v3h-3zM640 438h3v3h-3zM639 438h3v3h-3zM638 438h3v3h-3zM638 439h3v3h-3zM637 439h3v3h-3zM636 439h3v3h-3zM635 439h3v3h-3zM634 439h3v3h-3zM633 439h3v3h-3zM632 440h3v3h-3zM631 440h3v3h-3zM630 440h3v3h-3zM629 440h3v3h-3zM628 440h3v3h-3zM627 440h3v3h-3zM626 441h3v3h-3zM625 441h3v3h-3zM624 441h3v3h-3zM623 441h3v3h-3zM622 441h3v3h-3zM621 441h3v3h-3zM620 442h3v3h-3zM619 442h3v3h-3zM618 442h3v3h-3zM617 442h3v3h-3zM616 442h3v3h-3zM615 442h3v3h-3zM614 442h3v3h-3zM614 443h3v3h-3zM613 443h3v3h-3zM612 443h3v3h-3zM611 444h3v3h-3zM610 444h3v3h-3zM602 445h3v3h-3zM595 445h3v3h-3zM586 445h3v3h-3zM623 446h3v3h-3z" fill="#00f" shape-rendering="crispEdges"/>
</svg></body></html>
